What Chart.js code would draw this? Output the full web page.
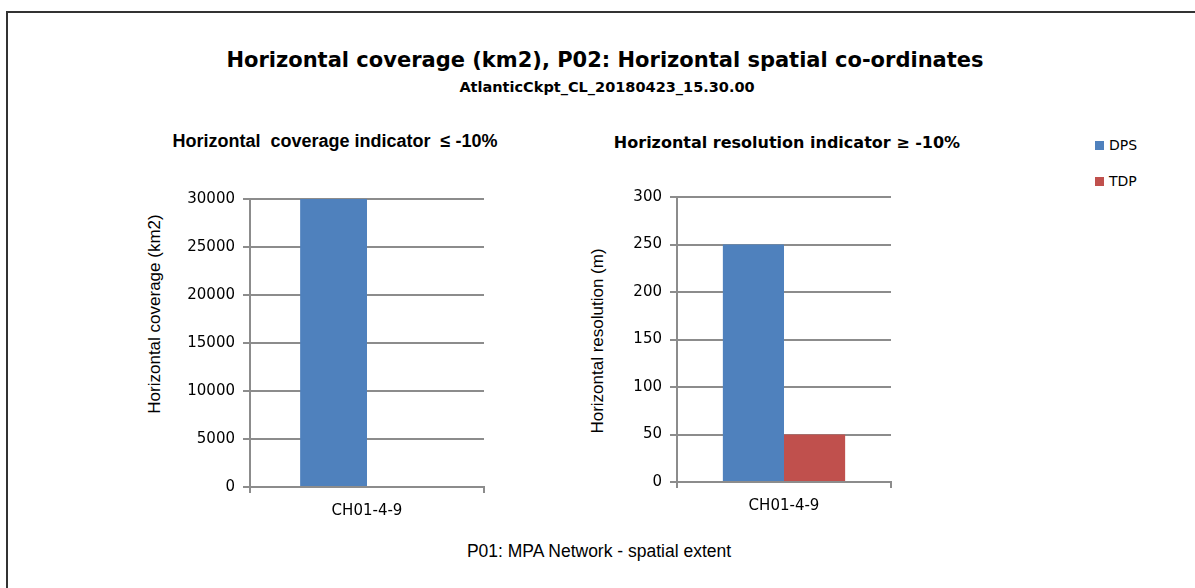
<!DOCTYPE html>
<html>
<head>
<meta charset="utf-8">
<script src="https://cdn.jsdelivr.net/npm/chart.js@4/dist/chart.umd.min.js"></script>
<style>
  body { margin: 0; background: #fff; width: 1195px; height: 588px; overflow: hidden; position: relative; }
  .frame { position: absolute; left: 6px; top: 11px; width: 1300px; height: 700px; border-left: 2px solid #333; border-top: 2px solid #333; }
  .txt { position: absolute; transform: translate(-50%, -50%); white-space: nowrap; color: #000; }
  .rot { transform: translate(-50%, -50%) rotate(-90deg); font: 17px "Liberation Sans", sans-serif; }
  .main { font: bold 21px "DejaVu Sans", sans-serif; }
  .sub { font: bold 14.5px "DejaVu Sans", sans-serif; }
  .ctitle1 { font: bold 18px "Liberation Sans", sans-serif; }
  .ctitle2 { font: bold 16px "DejaVu Sans", sans-serif; }
  .foot { font: 17.5px "Liberation Sans", sans-serif; }
  .leg { position: absolute; font: 14px "DejaVu Sans", sans-serif; color: #000; }
  .leg span { display: inline-block; width: 9px; height: 9px; margin-right: 5px; }
  canvas { position: absolute; }
</style>
</head>
<body>
<div class="frame"></div>
<div class="txt main" style="left:605px; top:60px;">Horizontal coverage (km2), P02: Horizontal spatial co-ordinates</div>
<div class="txt sub" style="left:607px; top:87px;">AtlanticCkpt_CL_20180423_15.30.00</div>
<div class="txt ctitle1" style="left:335px; top:141px;">Horizontal&nbsp; coverage indicator&nbsp; ≤ -10%</div>
<div class="txt ctitle2" style="left:787px; top:142px;">Horizontal resolution indicator ≥ -10%</div>
<div class="txt foot" style="left:599px; top:551px;">P01: MPA Network - spatial extent</div>
<div class="txt rot" style="left:155px; top:314px;">Horizontal coverage (km2)</div>
<div class="txt rot" style="left:598px; top:341px;">Horizontal resolution (m)</div>
<div id="legend"></div>
<div style="position:absolute;left:140px;top:180px;width:360px;height:340px;"><canvas id="coverageChart"></canvas></div>
<div style="position:absolute;left:560px;top:180px;width:360px;height:340px;"><canvas id="resolutionChart"></canvas></div>
<script>
// data
var categories = ['CH01-4-9'];
var seriesNames = ['DPS', 'TDP'];
var seriesColors = ['#4F81BD', '#C0504D'];
var coverageDPS = [30000];
var coverageTDP = [null];
var resolutionDPS = [250];
var resolutionTDP = [50];
var coverageTicks = { max: 30000, step: 5000 };
var resolutionTicks = { max: 300, step: 50 };

// legend on the right
var legend = document.getElementById('legend');
for (var i in seriesNames) {
  var d = document.createElement('div');
  d.className = 'leg';
  d.style.left = '1095px';
  d.style.top = (137 + i * 36) + 'px';
  d.innerHTML = '<span style="background:' + seriesColors[i] + '"></span>' + seriesNames[i];
  legend.appendChild(d);
}

var gridColor = '#8c8c8c';
var tickFont = { family: 'DejaVu Sans', size: 15 };

function makeChart(id, dps, tdp, ticks, yWidth, pad) {
  var ctx = document.getElementById(id);
  return new Chart(ctx, {
    type: 'bar',
    data: {
      labels: categories,
      datasets: [{
        label: seriesNames[0],
        data: dps,
        backgroundColor: seriesColors[0],
        borderWidth: 0
      }, {
        label: seriesNames[1],
        data: tdp,
        backgroundColor: seriesColors[1],
        borderWidth: 0
      }]
    },
    options: {
      responsive: true,
      maintainAspectRatio: false,
      animation: false,
      categoryPercentage: 2 / 3.5,
      barPercentage: 1,
      layout: { padding: pad },
      plugins: { legend: { display: false }, tooltip: { enabled: false } },
      scales: {
        x: {
          grid: { drawOnChartArea: false, color: gridColor, tickLength: 6, lineWidth: 2 },
          border: { color: gridColor, width: 2 },
          ticks: { color: '#000', font: tickFont, padding: 9 },
          afterFit: function(s) { s.height = 33; }
        },
        y: {
          min: 0,
          max: ticks.max,
          ticks: {
            stepSize: ticks.step, color: '#000', font: tickFont, padding: 8,
            callback: function(v) { return String(v); }
          },
          grid: { color: gridColor, tickLength: 7, lineWidth: 2 },
          border: { color: gridColor, width: 2 },
          afterFit: function(s) { s.width = yWidth; }
        }
      }
    }
  });
}

makeChart('coverageChart', coverageDPS, coverageTDP, coverageTicks, 110, { top: 19, right: 16, bottom: 0, left: 0 });
makeChart('resolutionChart', resolutionDPS, resolutionTDP, resolutionTicks, 117, { top: 17, right: 29, bottom: 5, left: 0 });
</script>
</body>
</html>
